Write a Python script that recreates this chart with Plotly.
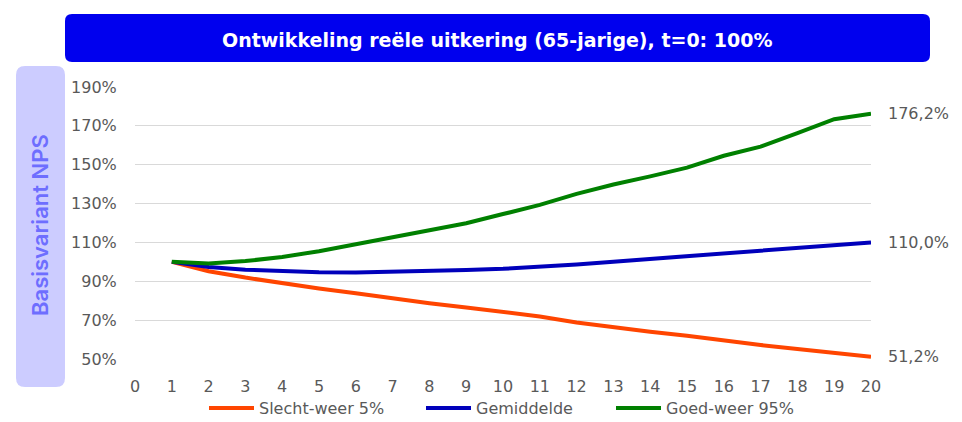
import plotly.graph_objects as go

# ---- data ----
jaren = list(range(1, 21))
slecht_weer = [100, 95.2, 91.9, 89.0, 86.3, 83.8, 81.1, 78.7, 76.5, 74.3,
               71.9, 68.8, 66.2, 64.0, 62.0, 59.4, 57.2, 55.1, 53.4, 51.2]
gemiddelde = [100, 97.3, 96.0, 95.2, 94.6, 94.5, 94.8, 95.2, 95.8, 96.4,
              97.3, 98.7, 100.1, 101.5, 103.0, 104.5, 106.2, 107.6, 108.8, 110.0]
goed_weer = [100, 99.2, 100.4, 102.5, 105.5, 109.2, 112.8, 116.7, 119.9, 124.6,
             129.3, 135.0, 139.8, 144.0, 148.5, 154.6, 159.3, 166.2, 173.4, 176.2]
series_names = ["Slecht-weer 5%", "Gemiddelde", "Goed-weer 95%"]
series_colors = ["#FF4500", "#0000BB", "#008000"]
legend_widths = [157, 130, 125]
end_labels = ["51,2%", "110,0%", "176,2%"]
x_ticks = list(range(0, 21))
y_ticks = [50, 70, 90, 110, 130, 150, 170, 190]
y_ticklabels = ["50%", "70%", "90%", "110%", "130%", "150%", "170%", "190%"]
title = "Ontwikkeling reële uitkering (65-jarige), t=0: 100%"
side_label = "Basisvariant NPS"

W, H = 962, 422
L, R, T, B = 135, 91, 87, 63
PW, PH = W - L - R, H - T - B

def px(x):
    return (x - L) / PW

def py(y):
    return (H - B - y) / PH

def rounded_rect(x0, y0, x1, y1, r):
    # pixel coords -> paper path with rounded corners
    pts = [
        f"M {px(x0 + r)} {py(y0)}",
        f"L {px(x1 - r)} {py(y0)}",
        f"Q {px(x1)} {py(y0)} {px(x1)} {py(y0 + r)}",
        f"L {px(x1)} {py(y1 - r)}",
        f"Q {px(x1)} {py(y1)} {px(x1 - r)} {py(y1)}",
        f"L {px(x0 + r)} {py(y1)}",
        f"Q {px(x0)} {py(y1)} {px(x0)} {py(y1 - r)}",
        f"L {px(x0)} {py(y0 + r)}",
        f"Q {px(x0)} {py(y0)} {px(x0 + r)} {py(y0)}",
        "Z",
    ]
    return " ".join(pts)

font_main = "DejaVu Sans, Verdana, sans-serif"
tick_color = "#595959"

fig = go.Figure()
for name, vals, col, lw in zip(series_names, [slecht_weer, gemiddelde, goed_weer],
                               series_colors, legend_widths):
    fig.add_trace(go.Scatter(x=jaren, y=vals, mode="lines", name=name,
                             line=dict(color=col, width=4), hoverinfo="x+y",
                             legendwidth=lw))

annotations = []
for vals, lab in zip([slecht_weer, gemiddelde, goed_weer], end_labels):
    annotations.append(dict(x=jaren[-1], y=vals[-1], xref="x", yref="y", text=lab,
                            showarrow=False, xanchor="left", xshift=15,
                            font=dict(family=font_main, size=16, color=tick_color)))

annotations.append(dict(x=px((65 + 930) / 2), y=py(40), xref="paper", yref="paper",
                        text=f"<b>{title}</b>", showarrow=False, xanchor="center", yanchor="middle",
                        font=dict(family="DejaVu Sans, sans-serif", size=19, color="white")))
annotations.append(dict(x=px(40), y=py(225), xref="paper", yref="paper",
                        text=side_label, textangle=-90, showarrow=False,
                        xanchor="center", yanchor="middle",
                        font=dict(family="Inter, Lato, sans-serif", size=22, weight=600,
                                  color="#6E6EFF")))

shapes = [
    dict(type="path", xref="paper", yref="paper", path=rounded_rect(65, 14, 930, 62, 7),
         fillcolor="#0000EE", line=dict(width=0), layer="below"),
    dict(type="path", xref="paper", yref="paper", path=rounded_rect(16, 66, 65, 387, 9),
         fillcolor="#CCCCFF", line=dict(width=0), layer="below"),
]

fig.update_layout(
    width=W, height=H,
    margin=dict(l=L, r=R, t=T, b=B, autoexpand=False),
    paper_bgcolor="white", plot_bgcolor="white",
    showlegend=True,
    legend=dict(orientation="h", x=px(204), y=py(408), xanchor="left", yanchor="middle",
                font=dict(family=font_main, size=16, color=tick_color),
                itemwidth=45, tracegroupgap=0, bgcolor="rgba(0,0,0,0)"),
    xaxis=dict(range=[0, 20], tickmode="array", tickvals=x_ticks,
               ticktext=[str(v) for v in x_ticks], showgrid=False, zeroline=False,
               showline=False, ticks="outside", ticklen=13, tickcolor="rgba(0,0,0,0)",
               tickfont=dict(family=font_main, size=16, color=tick_color)),
    yaxis=dict(range=[50, 190], tickmode="array", tickvals=y_ticks, ticktext=y_ticklabels,
               showgrid=True, gridcolor="#D9D9D9", gridwidth=1, zeroline=False,
               showline=False, ticks="outside", ticklen=14, tickcolor="rgba(0,0,0,0)",
               tickfont=dict(family=font_main, size=16, color=tick_color)),
    annotations=annotations,
    shapes=shapes,
)

fig.write_html("out.html", config={"displayModeBar": False},
               post_script="document.body.style.margin='0px';")
